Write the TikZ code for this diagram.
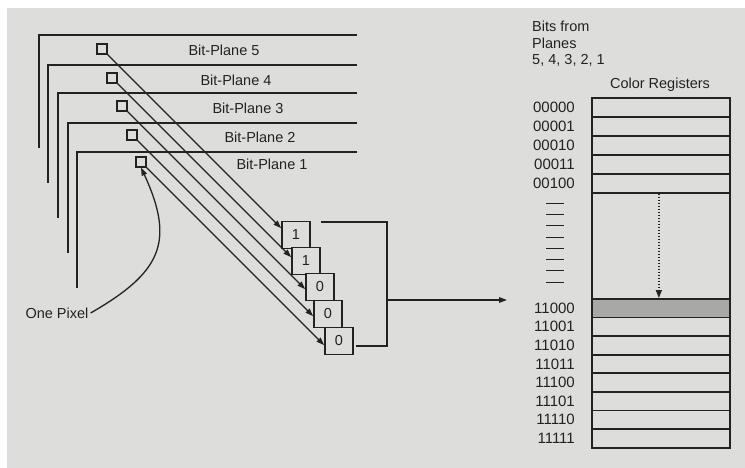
\documentclass[tikz,border=0pt]{standalone}
\usepackage{fontspec}
\setmainfont{Liberation Sans}
\usetikzlibrary{arrows.meta,calc}
\definecolor{paper}{RGB}{221,221,219}
\definecolor{ink}{RGB}{34,34,34}
\definecolor{shade}{RGB}{168,168,166}
\begin{document}
\begin{tikzpicture}[x=1pt,y=-1pt,
  font=\fontsize{14.5}{16.5}\selectfont,
  every node/.style={text=ink},
  plane/.style={draw=ink, line width=2.2pt},
  lbl/.style={inner sep=0pt},
  pix/.style={draw=ink, line width=1.6pt, minimum size=9.5pt, inner sep=0pt},
  bitbox/.style={draw=ink, line width=1.6pt, fill=paper, minimum width=28pt, minimum height=27pt, inner sep=0pt},
  arr/.style={draw=ink, line width=1.3pt, -{Triangle[length=8pt,width=5.5pt]}},
  wire/.style={draw=ink, line width=1.5pt},
  reg/.style={draw=ink, line width=1.7pt, minimum width=138pt, inner sep=0pt, anchor=north west},
  frame/.style={draw=ink, line width=2pt, minimum width=138pt, minimum height=350pt, inner sep=0pt, anchor=north west},
  code/.style={anchor=east, inner sep=0pt, font=\fontsize{15}{16.5}\selectfont},
  dotarr/.style={draw=ink, line width=1.4pt, dash pattern=on 1.4pt off 1.6pt, -{Triangle[length=8pt,width=6pt]}},
  dashmark/.style={draw=ink, line width=1.3pt}
]
\useasboundingbox (0,0) rectangle (745,468);
\fill[white] (0,0) rectangle (745,468);
\fill[paper] (7,8) rectangle (745,468);

% bit planes
\draw[plane] (39,148) -- (39,35) -- (357,35);
\draw[plane] (48,183) -- (48,65) -- (357,65);
\draw[plane] (58,218) -- (58,93) -- (357,93);
\draw[plane] (68,253) -- (68,123) -- (357,123);
\draw[plane] (77,288) -- (77,152) -- (357,152);

\node[lbl] (bp5) at (224,50) {Bit-Plane 5};
\node[lbl] (bp4) at (236,80) {Bit-Plane 4};
\node[lbl] (bp3) at (248,108) {Bit-Plane 3};
\node[lbl] (bp2) at (260,137) {Bit-Plane 2};
\node[lbl] (bp1) at (272,164) {Bit-Plane 1};

% pixels
\node[pix] (p5) at (102,49) {};
\node[pix] (p4) at (112,78) {};
\node[pix] (p3) at (122,106) {};
\node[pix] (p2) at (132,135) {};
\node[pix] (p1) at (141,162) {};

% bit boxes
\node[bitbox] (b1) at (296,235) {1};
\node[bitbox] (b2) at (306,261) {1};
\node[bitbox] (b3) at (320,287) {0};
\node[bitbox] (b4) at (328,314) {0};
\node[bitbox] (b5) at (339,341) {0};

\draw[arr] (p5.south east) -- ([yshift=-7.5pt]b1.north west);
\draw[arr] (p4.south east) -- ([yshift=-10.5pt]b2.north west);
\draw[arr] (p3.south east) -- ([yshift=-16.5pt]b3.north west);
\draw[arr] (p2.south east) -- ([yshift=-16.5pt]b4.north west);
\draw[arr] (p1.south east) -- ([yshift=-18.5pt]b5.north west);

% bracket
\coordinate (bt) at (321,222);
\coordinate (bm) at (387,300);
\coordinate (bb) at (356,346);
\coordinate (aend) at (507,300);
\draw[wire] (bt) -| (bm) |- (bb);
\draw[arr] (bm) -- (aend);

% one pixel
\node[inner sep=2pt] (op) at (57,313) {One Pixel};
\draw[arr] (op.east) .. controls (160,273) and (176,243) .. (p1.south);

% bits from planes
\node[anchor=north west, align=left, inner sep=0pt] (bits) at (532,21) {Bits from\\Planes\\5, 4, 3, 2, 1};
\node[lbl] (cr) at (660,85) {Color Registers};

% registers
\node[frame] (regs) at (591,97) {};
\node[reg, minimum height=19pt] (r0) at (591,97) {};
\node[reg, minimum height=19pt] (r1) at (591,116) {};
\node[reg, minimum height=19pt] (r2) at (591,135) {};
\node[reg, minimum height=19pt] (r3) at (591,154) {};
\node[reg, minimum height=19pt] (r4) at (591,173) {};
\node[reg, minimum height=18.6pt, fill=shade] (r24) at (591,298) {};
\node[reg, minimum height=18.6pt] (r25) at (591,316.6) {};
\node[reg, minimum height=18.6pt] (r26) at (591,335.2) {};
\node[reg, minimum height=18.6pt] (r27) at (591,353.8) {};
\node[reg, minimum height=18.6pt] (r28) at (591,372.4) {};
\node[reg, minimum height=18.6pt] (r29) at (591,391.0) {};
\node[reg, minimum height=18.6pt] (r30) at (591,409.6) {};
\node[reg, minimum height=18.8pt] (r31) at (591,428.2) {};
\node[frame, fill=none] (regs2) at (591,97) {};

\node[code] (c0) at ([xshift=-16pt]r0.west) {00000};
\node[code] (c1) at ([xshift=-16pt]r1.west) {00001};
\node[code] (c2) at ([xshift=-16pt]r2.west) {00010};
\node[code] (c3) at ([xshift=-16pt]r3.west) {00011};
\node[code] (c4) at ([xshift=-16pt]r4.west) {00100};
\node[code] (c24) at ([xshift=-16pt]r24.west) {11000};
\node[code] (c25) at ([xshift=-16pt]r25.west) {11001};
\node[code] (c26) at ([xshift=-16pt]r26.west) {11010};
\node[code] (c27) at ([xshift=-16pt]r27.west) {11011};
\node[code] (c28) at ([xshift=-16pt]r28.west) {11100};
\node[code] (c29) at ([xshift=-16pt]r29.west) {11101};
\node[code] (c30) at ([xshift=-16pt]r30.west) {11110};
\node[code] (c31) at ([xshift=-16pt]r31.west) {11111};

\foreach \yy in {203.5,214.5,225.5,237.5,248.5,259.5,270.5,282.5}
  \draw[dashmark] (546,\yy) -- (564,\yy);

\draw[dotarr] ([xshift=-2pt]r4.south) -- ([xshift=-2pt]r24.north);
\end{tikzpicture}
\end{document}
